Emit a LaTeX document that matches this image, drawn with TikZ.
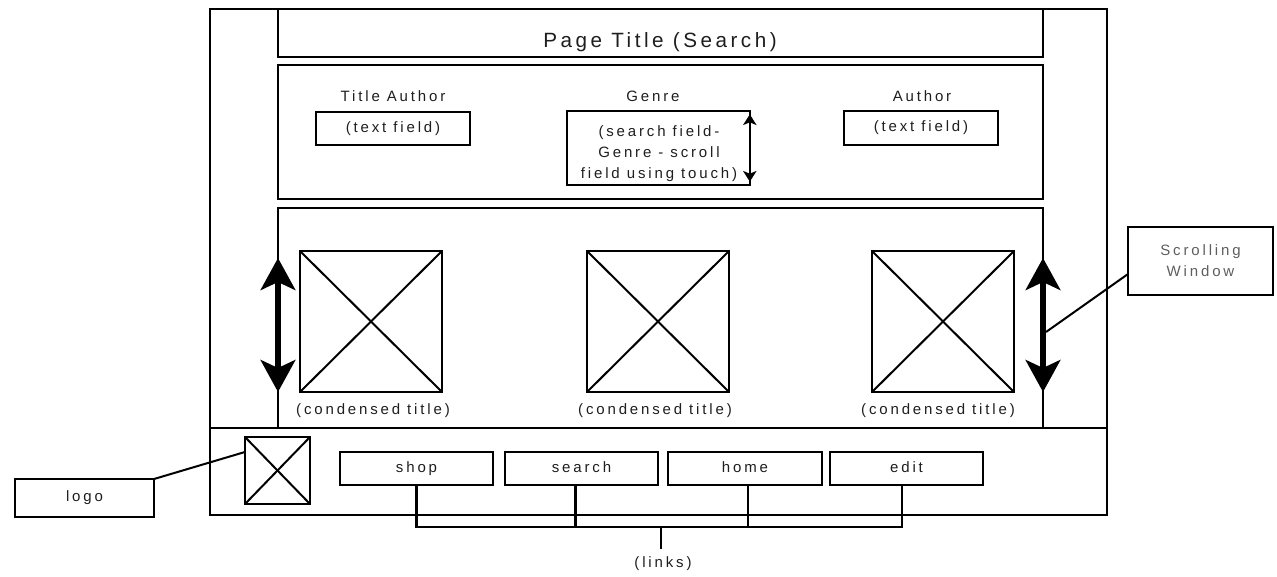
\documentclass[tikz,border=0pt]{standalone}
\usepackage{fontspec}
\setmainfont{Liberation Sans}[LetterSpace=19]
\newfontfamily\titlefont{Liberation Sans}[LetterSpace=17]
\usetikzlibrary{arrows.meta}
\definecolor{txt}{HTML}{1E1E1E}
\definecolor{txtlight}{HTML}{5E5E5E}
\begin{document}
\begin{tikzpicture}[x=0.75pt,y=-0.75pt,
  wh/.style 2 args={minimum width=#1*0.75pt, minimum height=#2*0.75pt},
  box/.style={draw, line width=1.8pt, inner sep=0pt, outer sep=0pt, text=txt,
    font=\fontsize{11.25}{15.75}\selectfont, align=center,
    text height=8pt, text depth=2.3pt},
  lbl/.style={inner sep=0pt, outer sep=0pt, text=txt, anchor=base,
    font=\fontsize{11.25}{15.75}\selectfont, align=center},
  img/.style={draw, line width=1.6pt, inner sep=0pt, outer sep=0pt},
  diag/.style={line width=1.5pt},
  thin/.style={line width=1.5pt},
  bigarrow/.style={line width=4pt,
    {Stealth[length=24pt,width=26pt,inset=6pt]}-{Stealth[length=24pt,width=26pt,inset=6pt]}},
  smallarrow/.style={line width=1.5pt,
    {Stealth[length=8pt,width=10pt,inset=2pt]}-{Stealth[length=8pt,width=10pt,inset=2pt]}}
]
\useasboundingbox (0,0) rectangle (1277,576);

% outer frame
\node[box, line width=2.2pt, wh={897}{506}] (frame) at (658.5,262) {};

% page title
\node[box, wh={765}{48}] (ptitle) at (660.5,33) {};
\node[lbl, font=\titlefont\fontsize{15.5}{18}\selectfont] (ptitletext) at (660,47) {Page Title (Search)};

% search area
\node[box, wh={765}{134}] (search) at (660.5,132) {};
\node[lbl] (ltitleauthor) at (393,101.5) {Title Author};
\node[lbl] (lgenre) at (653,101.5) {Genre};
\node[lbl] (lauthor) at (922,101.5) {Author};
\node[box, wh={154}{33}] (tf1) at (393,128.3) {(text field)};
\node[box, wh={154}{34}] (tf2) at (921,128) {(text field)};
\node[box, wh={183}{74}] (genre) at (658.3,148) {};
\node[lbl] (genretext) at (659,178) {(search field-\\Genre - scroll\\field using touch)};
\draw[smallarrow] ([yshift=-2.5pt]genre.north east) -- ([yshift=2.5pt]genre.south east);

% scrolling area
\node[box, wh={765}{220}] (scroll) at (660.5,318) {};
\draw[line width=1.8pt] (frame.west |- scroll.south) -- (frame.east |- scroll.south);

\node[img, wh={142}{141}] (img1) at (371,321.5) {};
\node[img, wh={142}{141}] (img2) at (658,321.5) {};
\node[img, wh={142}{141}] (img3) at (943,321.5) {};
\foreach \i in {img1,img2,img3}{
  \draw[diag] (\i.north west) -- (\i.south east);
  \draw[diag] (\i.north east) -- (\i.south west);
}
\node[lbl] (ct1) at (373,414) {(condensed title)};
\node[lbl] (ct2) at (655,414) {(condensed title)};
\node[lbl] (ct3) at (938,414) {(condensed title)};

\coordinate (la1) at (278,258);
\coordinate (la2) at (278,392);
\coordinate (ra1) at (1043,258);
\coordinate (ra2) at (1043,392);
\draw[bigarrow] (la1) -- (la2);
\draw[bigarrow] (ra1) -- (ra2);

% scrolling window callout
\node[box, wh={145}{68}, text=txtlight, text height=, text depth=] (scrollwin) at (1200.5,261) {Scrolling\\Window};
\coordinate (rapoint) at (1046,332);
\draw[thin] ([yshift=-9.75pt]scrollwin.west) -- (rapoint);

% footer
\node[img, wh={65}{67}] (logoimg) at (277.5,470.5) {};
\draw[diag] (logoimg.north west) -- (logoimg.south east);
\draw[diag] (logoimg.north east) -- (logoimg.south west);
\node[box, wh={139}{38}] (logo) at (84.5,498) {logo};
\draw[thin] (logo.north east) -- ([yshift=13.9pt]logoimg.west);

\node[box, wh={153}{33}] (shop) at (416.5,468.5) {shop};
\node[box, wh={153}{33}] (searchbtn) at (581.5,468.5) {search};
\node[box, wh={154}{33}] (home) at (745,468.5) {home};
\node[box, wh={153}{33}] (edit) at (906.5,468.5) {edit};

\node[lbl] (links) at (663,567) {(links)};
\coordinate (brk) at (0,527);
\draw[line width=1.7pt] (shop.south) -- (shop.south |- brk) -- ([xshift=-3.4pt]edit.south |- brk) -- ([xshift=-3.4pt]edit.south);
\draw[line width=1.7pt] ([xshift=-4.5pt]searchbtn.south) -- ([xshift=-4.5pt]searchbtn.south |- brk);
\draw[line width=1.7pt] ([xshift=2.25pt]home.south) -- ([xshift=2.25pt]home.south |- brk);
\draw[line width=1.7pt] ([xshift=-1.5pt]links.north |- brk) -- ([xshift=-1.5pt,yshift=5pt]links.north);
\end{tikzpicture}
\end{document}
